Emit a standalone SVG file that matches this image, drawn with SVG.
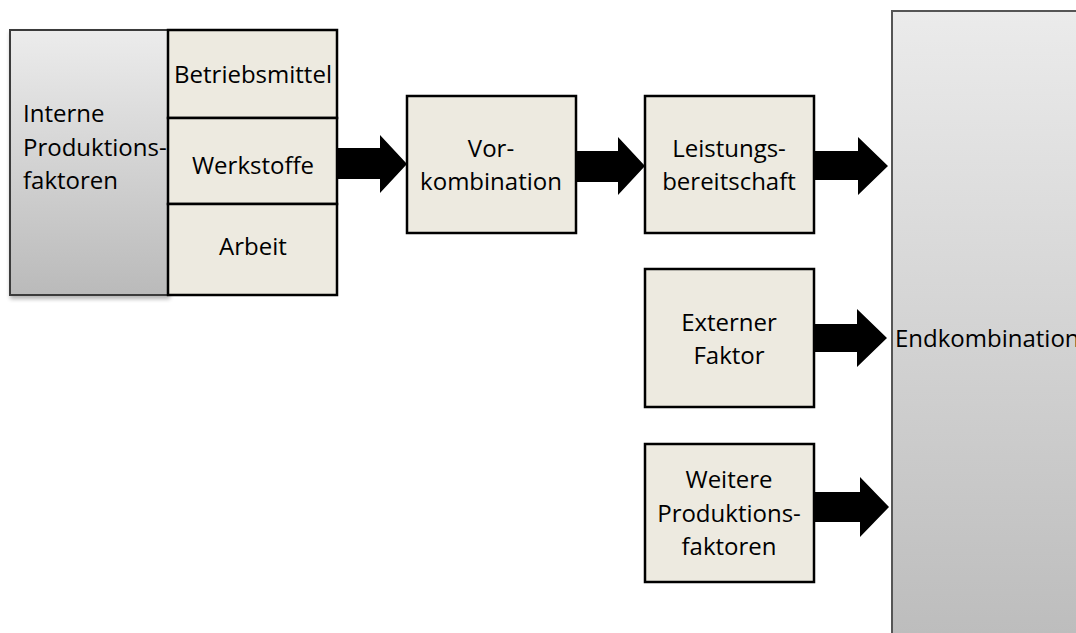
<svg xmlns="http://www.w3.org/2000/svg" width="1076" height="633" viewBox="0 0 1076 633">
<defs>
<linearGradient id="gLeft" x1="0" y1="0" x2="0" y2="1">
<stop offset="0" stop-color="#ececec"/>
<stop offset="1" stop-color="#bababa"/>
</linearGradient>
<linearGradient id="gEnd" x1="0" y1="11" x2="0" y2="633" gradientUnits="userSpaceOnUse">
<stop offset="0" stop-color="#ebebeb"/>
<stop offset="1" stop-color="#bdbdbd"/>
</linearGradient>
<filter id="sh" x="-10%" y="-10%" width="130%" height="130%">
<feGaussianBlur in="SourceAlpha" stdDeviation="2"/>
<feOffset dx="1" dy="3"/>
<feComponentTransfer><feFuncA type="linear" slope="0.3"/></feComponentTransfer>
<feMerge><feMergeNode/><feMergeNode in="SourceGraphic"/></feMerge>
</filter>
</defs>
<style>
.box{fill:#edeae0;stroke:#000;stroke-width:2.5}
.gray{stroke:#3a3a3a;stroke-width:2}
.t{font-family:"Open Sans","Noto Sans",sans-serif;font-size:24px;fill:#000}
.c{text-anchor:middle}
.arrow{fill:#000}
</style>
<rect width="1076" height="633" fill="#ffffff"/>

<g id="endkombination">
<rect x="892" y="11" width="200" height="640" fill="url(#gEnd)" stroke="#555" stroke-width="2"/>
<text class="t" x="895" y="347">Endkombination</text>
</g>

<g id="interne">
<rect x="10" y="30" width="158" height="265" fill="url(#gLeft)" class="gray" filter="url(#sh)"/>
<text class="t" x="23" y="122">Interne</text>
<text class="t" x="23" y="156">Produktions-</text>
<text class="t" x="23" y="189">faktoren</text>
</g>

<g id="betriebsmittel">
<rect class="box" x="168" y="30" width="169" height="88"/>
<text class="t c" x="253" y="83">Betriebsmittel</text>
</g>
<g id="werkstoffe">
<rect class="box" x="168" y="118" width="169" height="86"/>
<text class="t c" x="253" y="174">Werkstoffe</text>
</g>
<g id="arbeit">
<rect class="box" x="168" y="204" width="169" height="91"/>
<text class="t c" x="253" y="255">Arbeit</text>
</g>

<g id="vorkombination">
<rect class="box" x="407" y="96" width="169" height="137"/>
<text class="t c" x="491" y="157">Vor-</text>
<text class="t c" x="491" y="190">kombination</text>
</g>

<g id="leistungsbereitschaft">
<rect class="box" x="645" y="96" width="169" height="137"/>
<text class="t c" x="729" y="157">Leistungs-</text>
<text class="t c" x="729" y="190">bereitschaft</text>
</g>

<g id="externer">
<rect class="box" x="645" y="269" width="169" height="138"/>
<text class="t c" x="729" y="331">Externer</text>
<text class="t c" x="729" y="364">Faktor</text>
</g>

<g id="weitere">
<rect class="box" x="645" y="444" width="169" height="138"/>
<text class="t c" x="729" y="488">Weitere</text>
<text class="t c" x="729" y="522">Produktions-</text>
<text class="t c" x="729" y="555">faktoren</text>
</g>

<g id="connectors">
<polygon class="arrow" points="337,148 380,148 380,135 407,164 380,193 380,179 337,179"/>
<polygon class="arrow" points="576,151 618,151 618,137 645,166 618,195 618,182 576,182"/>
<polygon class="arrow" points="814,151 858,151 858,137 888,166 858,195 858,180 814,180"/>
<polygon class="arrow" points="814,324 857,324 857,309 887,338 857,367 857,352 814,352"/>
<polygon class="arrow" points="814,492 860,492 860,477 889,507 860,537 860,522 814,522"/>
</g>
</svg>
